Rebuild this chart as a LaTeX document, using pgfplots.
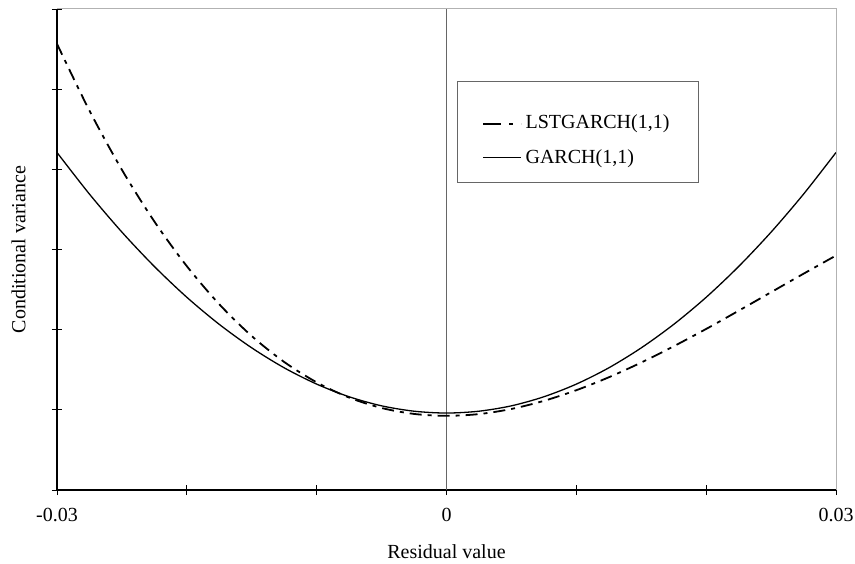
\documentclass[border=0pt]{standalone}
\usepackage{fontspec}
\setmainfont{Liberation Serif}
\usepackage{pgfplots}
\pgfplotsset{compat=1.18}
\usepackage{pgfplotstable}
\pgfplotstableread{
x v
-0.0300 5.565
-0.0275 4.732
-0.0250 3.994
-0.0225 3.349
-0.0200 2.792
-0.0175 2.317
-0.0150 1.920
-0.0125 1.597
-0.0100 1.343
-0.0075 1.153
-0.0050 1.023
-0.0025 0.949
0.0000 0.925
0.0025 0.947
0.0050 1.011
0.0075 1.112
0.0100 1.245
0.0125 1.406
0.0150 1.590
0.0175 1.793
0.0200 2.009
0.0225 2.236
0.0250 2.467
0.0275 2.698
0.0300 2.925
}\lstgarch
\pgfplotstableread{
x v
-0.0300 4.210
-0.0275 3.691
-0.0250 3.217
-0.0225 2.788
-0.0200 2.404
-0.0175 2.066
-0.0150 1.773
-0.0125 1.524
-0.0100 1.321
-0.0075 1.163
-0.0050 1.050
-0.0025 0.983
0.0000 0.960
0.0025 0.983
0.0050 1.050
0.0075 1.163
0.0100 1.321
0.0125 1.524
0.0150 1.773
0.0175 2.066
0.0200 2.404
0.0225 2.788
0.0250 3.217
0.0275 3.691
0.0300 4.210
}\garch
\begin{document}
\begin{tikzpicture}[font=\fontsize{20bp}{23bp}\selectfont]
\begin{axis}[
  scale only axis,
  width=779bp, height=481bp,
  xmin=-0.03, xmax=0.03, ymin=0, ymax=6,
  scaled x ticks=false, scaled y ticks=false,
  axis x line*=bottom, axis y line*=left,
  axis line style={black, line width=1.1bp, -},
  xtick={-0.03,-0.02,-0.01,0,0.01,0.02,0.03},
  xticklabels={-0.03,{},{},0,{},{},0.03},
  ytick={0,1,2,3,4,5,6},
  yticklabels={},
  tick align=center,
  major tick length=10bp,
  tick style={black, line width=0.9bp},
  xticklabel style={anchor=north, yshift=-10bp},
  xlabel={Residual value},
  ylabel={Conditional variance},
  xlabel style={at={(axis description cs:0.5,-0.129)}, anchor=center},
  ylabel style={at={(axis description cs:-0.0494,0.5)}, anchor=center},
  clip=false,
  legend cell align=left,
  legend image code/.code={\draw[#1] (0bp,0bp) -- (38bp,0bp);},
  legend style={at={(axis cs:0.00077,5.1)}, anchor=north west,
    draw=black!60, line width=0.8bp, fill=white,
    inner xsep=25bp, inner ysep=14bp, row sep=13bp,
    nodes={inner sep=3.5bp}},
]
\addplot[black!60, line width=0.8bp, forget plot] coordinates {(0,0) (0,6)};
\addplot[black, line width=1.8bp, smooth, dash pattern=on 12bp off 6bp on 4bp off 6bp,
  legend image code/.code={%
    \draw[##1, line width=2.2bp, dash pattern=on 18bp off 8bp on 4bp off 8bp] (0bp,-10bp) -- (38bp,-10bp);}] table[x=x,y=v] {\lstgarch};
\addlegendentry{\rule{0pt}{29bp}LSTGARCH(1,1)}
\addplot[black, line width=1.3bp, smooth] table[x=x,y=v] {\garch};
\addlegendentry{GARCH(1,1)}
\draw[black!30, line width=1bp] (rel axis cs:0,1) -- (rel axis cs:1,1) -- (rel axis cs:1,0);
\coordinate (LL) at (rel axis cs:0,0);
\coordinate (UR) at (rel axis cs:1,1);
\end{axis}
\pgfresetboundingbox
\path ([shift={(-57bp,-73bp)}]LL) rectangle ([shift={(19bp,9bp)}]UR);
\end{tikzpicture}
\end{document}
